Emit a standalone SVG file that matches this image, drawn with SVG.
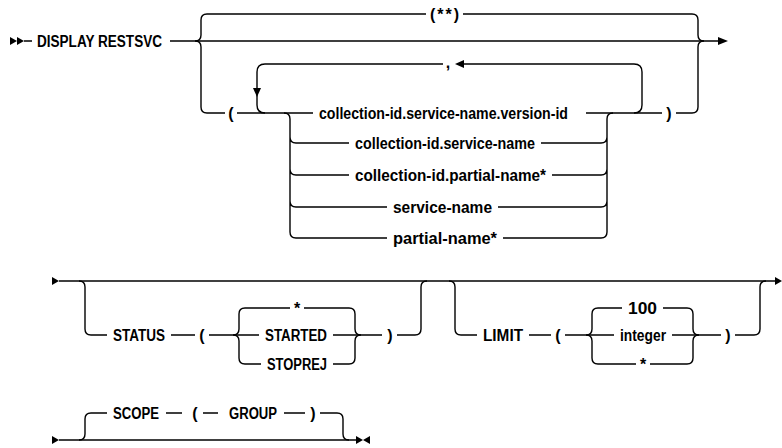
<svg xmlns="http://www.w3.org/2000/svg" width="782" height="448" viewBox="0 0 782 448">
<style>
.t{font-family:"Liberation Sans",Arial,sans-serif;font-weight:700;font-size:16px;fill:#000}
.m{text-anchor:middle}
.l{fill:none;stroke:#000;stroke-width:1.4}
.a{fill:#000;stroke:none}
</style>
<rect width="782" height="448" fill="#fff"/>
<g id="connectors">
<path class="l" d="M24,41 H32 M170,41 H718"/>
<path class="l" d="M207,14 Q201,14 201,20 V35 Q201,41 195,41 Q201,41 201,47 V107 Q201,113 207,113"/>
<path class="l" d="M692,14 Q698,14 698,20 V35 Q698,41 704,41 Q698,41 698,47 V107 Q698,113 692,113"/>
<path class="l" d="M207,14 H426 M463,14 H692"/>
<path class="l" d="M207,113 H225 M237,113 H313 M586,113 H662 M676,113 H692"/>
<path class="l" d="M265,113 Q257,113 257,105 V72 Q257,64 265,64 H443 M464,64 H634 Q642,64 642,72 V105 Q642,113 634,113"/>
<polygon class="a" points="253,88 261,88 257,97"/>
<polygon class="a" points="455,64 464,60 464,68"/>
<path class="l" d="M284,113 Q290,113 290,119 V232 Q290,238 296,238 M290,137 Q290,143 296,143 M290,169 Q290,175 296,175 M290,201 Q290,207 296,207"/>
<path class="l" d="M613,113 Q607,113 607,119 V232 Q607,238 601,238 M607,137 Q607,143 601,143 M607,169 Q607,175 601,175 M607,201 Q607,207 601,207"/>
<path class="l" d="M296,143 H349 M541,143 H601 M296,175 H349 M552,175 H601 M296,207 H387 M498,207 H601 M296,238 H387 M503,238 H601"/>
<polygon class="a" points="718,37 728,41 718,45"/>
<polygon class="a" points="10,37 17,41 10,45"/>
<polygon class="a" points="17,37 24,41 17,45"/>

<polygon class="a" points="52,277 59,281 52,285"/>
<path class="l" d="M59,281 H775"/>
<polygon class="a" points="775,277 782,281 775,285"/>
<path class="l" d="M79,281 Q85,281 85,287 V329 Q85,335 91,335 H107 M171,335 H195 M209,335 H259"/>
<path class="l" d="M245,308 Q239,308 239,314 V329 Q239,335 233,335 Q239,335 239,341 V358 Q239,364 245,364"/>
<path class="l" d="M245,308 H290 M304,308 H349 M245,364 H261 M333,364 H349 M333,335 H382"/>
<path class="l" d="M349,308 Q355,308 355,314 V329 Q355,335 361,335 Q355,335 355,341 V358 Q355,364 349,364"/>
<path class="l" d="M397,335 H415 Q421,335 421,329 V287 Q421,281 427,281"/>
<path class="l" d="M449,281 Q455,281 455,287 V329 Q455,335 461,335 H477 M529,335 H551 M565,335 H614"/>
<path class="l" d="M598,308 Q592,308 592,314 V329 Q592,335 586,335 Q592,335 592,341 V358 Q592,364 598,364"/>
<path class="l" d="M598,308 H622 M663,308 H687 M672,335 H721 M598,364 H636 M650,364 H687"/>
<path class="l" d="M687,308 Q693,308 693,314 V329 Q693,335 699,335 Q693,335 693,341 V358 Q693,364 687,364"/>
<path class="l" d="M735,335 H754 Q760,335 760,329 V287 Q760,281 766,281"/>

<polygon class="a" points="52,436 59,440 52,444"/>
<path class="l" d="M59,440 H356"/>
<polygon class="a" points="356,436 363,440 356,444"/>
<polygon class="a" points="370,436 363,440 370,444"/>
<path class="l" d="M79,440 Q85,440 85,434 V419 Q85,413 91,413 H107 M166,413 H182 M203,413 H218 M284,413 H305 M320,413 H337 Q343,413 343,419 V434 Q343,440 349,440"/>
</g>

<g id="n-display"><text class="t" x="37" y="47" textLength="125" lengthAdjust="spacingAndGlyphs">DISPLAY RESTSVC</text></g>
<g id="n-all"><text class="t" x="430" y="20" textLength="29">(**)</text></g>
<g id="n-lparen1"><text class="t m" x="231" y="119">(</text></g>
<g id="n-comma"><text class="t m" x="448" y="68">,</text></g>
<g id="n-csv"><text class="t" x="319" y="119" textLength="249" lengthAdjust="spacingAndGlyphs">collection-id.service-name.version-id</text></g>
<g id="n-cs"><text class="t" x="355" y="149" textLength="180" lengthAdjust="spacingAndGlyphs">collection-id.service-name</text></g>
<g id="n-cp"><text class="t" x="355" y="181" textLength="191" lengthAdjust="spacingAndGlyphs">collection-id.partial-name*</text></g>
<g id="n-s"><text class="t" x="393" y="213" textLength="99" lengthAdjust="spacingAndGlyphs">service-name</text></g>
<g id="n-p"><text class="t" x="393" y="244" textLength="104" lengthAdjust="spacingAndGlyphs">partial-name*</text></g>
<g id="n-rparen1"><text class="t m" x="669" y="119">)</text></g>

<g id="n-status"><text class="t" x="113" y="341" textLength="52" lengthAdjust="spacingAndGlyphs">STATUS</text></g>
<g id="n-lparen2"><text class="t m" x="202" y="341">(</text></g>
<g id="n-star1"><text class="t m" x="297" y="314">*</text></g>
<g id="n-started"><text class="t" x="265" y="341" textLength="62" lengthAdjust="spacingAndGlyphs">STARTED</text></g>
<g id="n-stoprej"><text class="t" x="267" y="370" textLength="60" lengthAdjust="spacingAndGlyphs">STOPREJ</text></g>
<g id="n-rparen2"><text class="t m" x="390" y="341">)</text></g>
<g id="n-limit"><text class="t" x="483" y="341" textLength="40" lengthAdjust="spacingAndGlyphs">LIMIT</text></g>
<g id="n-lparen3"><text class="t m" x="558" y="341">(</text></g>
<g id="n-100"><text class="t" x="628" y="314" textLength="29" lengthAdjust="spacingAndGlyphs">100</text></g>
<g id="n-integer"><text class="t" x="620" y="341" textLength="46" lengthAdjust="spacingAndGlyphs">integer</text></g>
<g id="n-star2"><text class="t m" x="643" y="370">*</text></g>
<g id="n-rparen3"><text class="t m" x="728" y="341">)</text></g>

<g id="n-scope"><text class="t" x="113" y="419" textLength="46" lengthAdjust="spacingAndGlyphs">SCOPE</text></g>
<g id="n-lparen4"><text class="t m" x="195" y="419">(</text></g>
<g id="n-group"><text class="t" x="229" y="419" textLength="48" lengthAdjust="spacingAndGlyphs">GROUP</text></g>
<g id="n-rparen4"><text class="t m" x="313" y="419">)</text></g>
</svg>
